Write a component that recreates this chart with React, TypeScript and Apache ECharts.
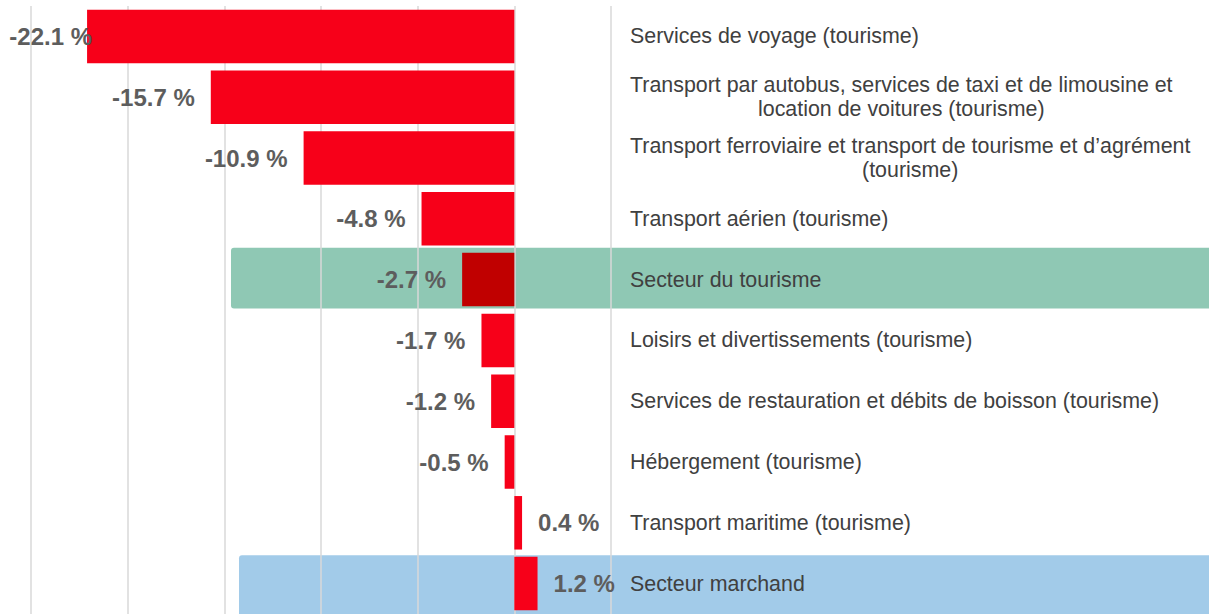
import React, { useEffect, useRef } from "react";
import * as echarts from "echarts";

const categories: string[] = [
  "Services de voyage (tourisme)",
  "Transport par autobus, services de taxi et de limousine et\nlocation de voitures (tourisme)",
  "Transport ferroviaire et transport de tourisme et d’agrément\n(tourisme)",
  "Transport aérien (tourisme)",
  "Secteur du tourisme",
  "Loisirs et divertissements (tourisme)",
  "Services de restauration et débits de boisson (tourisme)",
  "Hébergement (tourisme)",
  "Transport maritime (tourisme)",
  "Secteur marchand",
];

const values: number[] = [-22.1, -15.7, -10.9, -4.8, -2.7, -1.7, -1.2, -0.5, 0.4, 1.2];

const xTicks = { min: -25, max: 5, interval: 5 };

const RED = "#f70019";
const DARK_RED = "#c00000";
const GREEN_BAND = "#8fc8b4";
const BLUE_BAND = "#a2cbe9";
const FONT = "'Liberation Sans', Arial, Helvetica, sans-serif";

export default function App() {
  const ref = useRef<HTMLDivElement>(null);

  useEffect(() => {
    document.body.style.margin = "0";
    if (!ref.current) return;
    const chart = echarts.init(ref.current, undefined, { renderer: "svg" });

    const data = values.map((v, i) => {
      const item: any = {
        value: v,
        itemStyle: { color: categories[i] === "Secteur du tourisme" ? DARK_RED : RED },
        label: { position: v < 0 ? "left" : "right", distance: 16 },
      };
      if (i === 0) item.label.distance = -5;
      return item;
    });

    chart.setOption({
      animation: false,
      grid: { left: 31, right: 598, top: 6, bottom: 0, containLabel: false, outerBoundsMode: "none" },
      xAxis: {
        type: "value",
        min: xTicks.min,
        max: xTicks.max,
        interval: xTicks.interval,
        axisLabel: { show: false },
        axisLine: { show: false },
        axisTick: { show: false },
        splitLine: { show: true, lineStyle: { color: "#d9d9d9", width: 1.5 } },
      },
      yAxis: {
        type: "category",
        data: categories,
        inverse: true,
        position: "right",
        axisLine: { show: false },
        axisTick: { show: false },
        splitLine: { show: false },
        axisLabel: {
          interval: 0,
          margin: 19,
          align: "left",
          formatter: (s: string) => `{c|${s}}`,
          rich: {
            c: {
              align: "center",
              fontFamily: FONT,
              fontSize: 21.4,
              lineHeight: 24,
              color: "#404040",
            },
          },
        },
      },
      series: [
        {
          type: "bar",
          data,
          barCategoryGap: "12%",
          label: {
            show: true,
            fontFamily: FONT,
            fontSize: 24,
            fontWeight: "bold",
            color: "#5d5d5d",
            formatter: (p: any) => `${Number(p.value).toFixed(1)} %`,
          },
        },
      ],
    });

    const bandW = (chart.getModel() as any)
      .getComponent("yAxis", 0)
      .axis.getBandWidth();
    const cGreen = chart.convertToPixel({ yAxisIndex: 0 }, "Secteur du tourisme") as number;
    const cBlue = chart.convertToPixel({ yAxisIndex: 0 }, "Secteur marchand") as number;

    chart.setOption({
      graphic: [
        {
          type: "rect",
          z: -10,
          shape: { x: 231, y: cGreen - bandW / 2 - 1.5, width: 990, height: bandW, r: 3 },
          style: { fill: GREEN_BAND },
        },
        {
          type: "rect",
          z: -10,
          shape: { x: 239, y: cBlue - bandW / 2 + 2, width: 990, height: bandW, r: 3 },
          style: { fill: BLUE_BAND },
        },
      ],
    });

    return () => chart.dispose();
  }, []);

  return <div ref={ref} style={{ width: 1209, height: 614 }} />;
}
